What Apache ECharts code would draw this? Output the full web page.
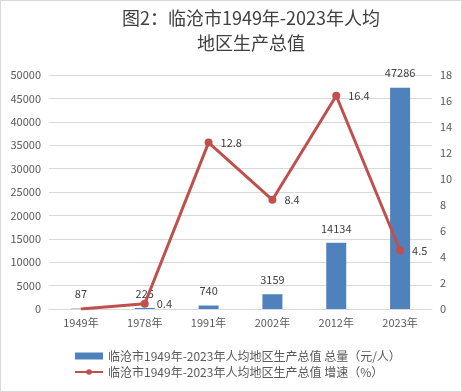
<!DOCTYPE html>
<html><head><meta charset="utf-8">
<script src="https://cdn.jsdelivr.net/npm/echarts@6/dist/echarts.min.js"></script>
<style>html,body{margin:0;padding:0;background:#fff}#c{width:460px;height:390px;border:1px solid #d9d9d9}</style>
</head><body><div id="c"></div>
<script>
const categories = ['1949年','1978年','1991年','2002年','2012年','2023年'];
const totalValues = [87, 225, 740, 3159, 14134, 47286];
const growthValues = [0, 0.4, 12.8, 8.4, 16.4, 4.5];
const leftTicks = [0, 50000, 5000];
const rightTicks = [0, 18, 2];
const barName = '临沧市1949年-2023年人均地区生产总值 总量（元/人）';
const lineName = '临沧市1949年-2023年人均地区生产总值 增速（%）';
const chart = echarts.init(document.getElementById('c'));
const font = '"Noto Sans CJK SC", "Noto Sans", sans-serif';
chart.setOption({
  animation:false,
  textStyle:{fontFamily:font},
  title:{text:'图2：临沧市1949年-2023年人均\n地区生产总值',left:245,textAlign:'center',top:0,
    textStyle:{fontSize:18,fontWeight:'normal',color:'#404040',lineHeight:25,fontFamily:font}},
  legend:{orient:'vertical',left:68,top:344,itemGap:4,itemWidth:28,itemHeight:7,
    textStyle:{color:'#595959',fontSize:12},
    data:[{name:barName,icon:'rect'},{name:lineName}]},
  grid:{left:48,right:29,top:74,bottom:82},
  xAxis:{type:'category',data:categories,axisTick:{show:false},
    axisLine:{lineStyle:{color:'#d9d9d9'}},
    axisLabel:{color:'#595959',fontSize:11,margin:8}},
  yAxis:[
    {type:'value',min:leftTicks[0],max:leftTicks[1],interval:leftTicks[2],
     axisLabel:{color:'#595959',fontSize:11,margin:8,formatter:v=>String(v)},
     splitLine:{lineStyle:{color:'#d9d9d9'}},axisLine:{show:false},axisTick:{show:false}},
    {type:'value',min:rightTicks[0],max:rightTicks[1],interval:rightTicks[2],
     axisLabel:{color:'#595959',fontSize:11,margin:8},
     splitLine:{show:false},axisLine:{show:false},axisTick:{show:false}}
  ],
  series:[
    {name:barName,type:'bar',data:totalValues,barWidth:20,itemStyle:{color:'#4f81bd'},
     label:{show:true,position:'top',color:'#404040',fontSize:11,distance:9}},
    {name:lineName,type:'line',yAxisIndex:1,
     data:growthValues.map((v,i)=> i===0 ? {value:v,symbol:'none',label:{show:false}} : v),
     symbol:'circle',symbolSize:8,lineStyle:{color:'#c0504d',width:3},itemStyle:{color:'#c0504d'},
     label:{show:true,position:'right',color:'#404040',fontSize:11,distance:8}}
  ]
});
</script></body></html>
